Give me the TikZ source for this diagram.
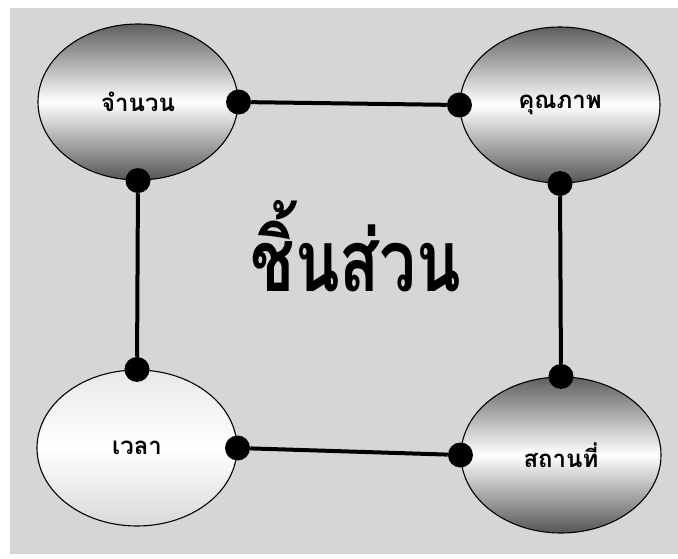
\documentclass[tikz,border=0pt]{standalone}
\usepackage{fontspec}
\newfontfamily\thaifont[Script=Thai]{Loma}
\usetikzlibrary{shapes.geometric}
\definecolor{panelgray}{RGB}{214,214,214}
\definecolor{shadegray}{RGB}{95,95,95}

\begin{document}
\begin{tikzpicture}[x=1pt, y=-1pt, every node/.style={font=\thaifont\bfseries},
	part/.style={ellipse, draw=black, line width=1.1pt, minimum width=200pt, minimum height=156pt, inner sep=0pt, font=\thaifont\bfseries\fontsize{24}{28}\selectfont},
	shiny/.style={part, top color=shadegray, bottom color=shadegray!90!black, middle color=white},
	pale/.style={part, top color=gray!18, bottom color=gray!30, middle color=white},
	joint/.style={circle, fill=black, minimum size=25pt, inner sep=0pt},
	link/.style={line width=4pt}]
	\useasboundingbox (0,0) rectangle (678,559);
	\fill[panelgray] (10,8) rectangle (678,554);
	\node[shiny] (amount) at (138,102) {จำนวน};
	\node[shiny] (quality) at (560,105) {คุณภาพ};
	\node[pale] (time) at (137,448) {เวลา};
	\node[shiny] (place) at (561,455) {สถานที่};
	\node[font=\thaifont\bfseries\fontsize{86}{94}\selectfont, transform shape, xscale=0.76] (title) at (356,246) {ชิ้นส่วน};
	\node[joint] (amountE) at (amount.east) {};
	\node[joint] (amountS) at (amount.south) {};
	\node[joint] (qualityW) at (quality.west) {};
	\node[joint] (qualityS) at (quality.south) {};
	\node[joint] (timeN) at (time.north) {};
	\node[joint] (timeE) at (time.east) {};
	\node[joint] (placeN) at (place.north) {};
	\node[joint] (placeW) at (place.west) {};
	\draw[link] (amountE) -- (qualityW);
	\draw[link] (amountS) -- (timeN);
	\draw[link] (qualityS) -- (placeN);
	\draw[link] (timeE) -- (placeW);
\end{tikzpicture}
\end{document}
